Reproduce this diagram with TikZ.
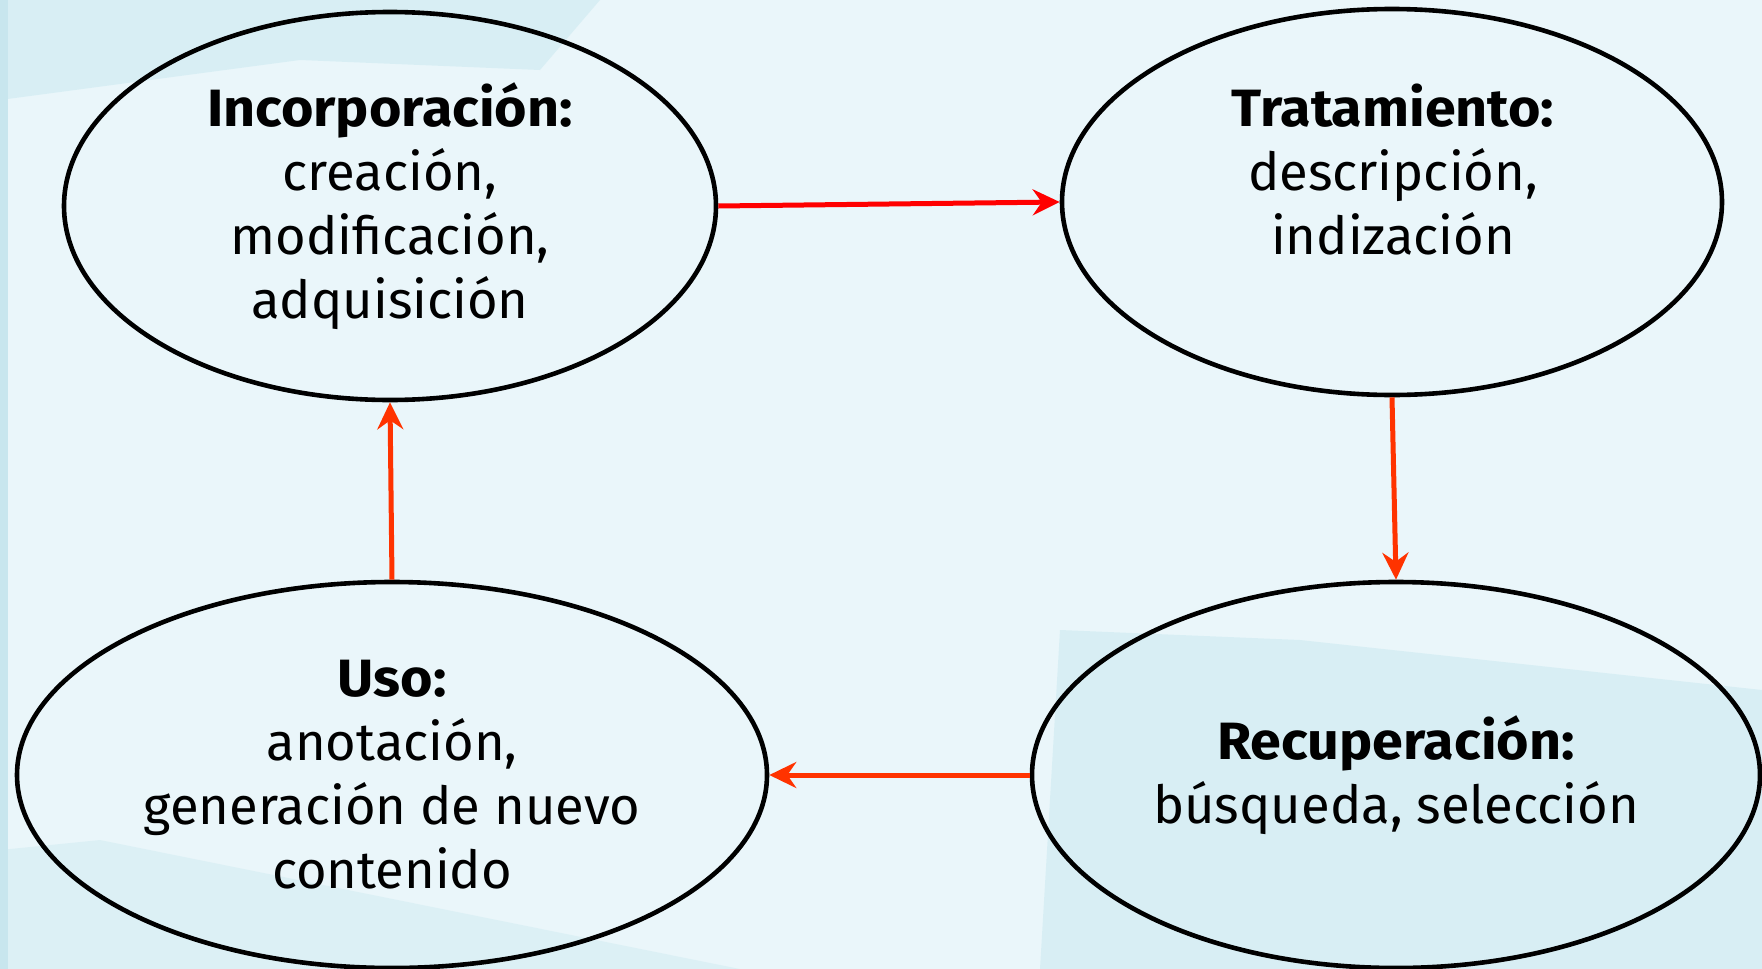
\documentclass[tikz,border=0pt]{standalone}
\usepackage{fontspec}
\setmainfont{Fira Sans}[BoldFeatures={FakeStretch=1.06}]
\usetikzlibrary{shapes.geometric,arrows.meta}
\definecolor{bgbase}{HTML}{EAF6FA}
\definecolor{bgdark}{HTML}{D4EDF3}
\definecolor{bgedge}{HTML}{C8E6EE}
\definecolor{arrred}{HTML}{FF0000}
\definecolor{arrorange}{HTML}{FF3300}
\tikzset{
  stagefont/.style={font=\fontsize{52.5}{64}\selectfont},
  stage/.style={draw=black, line width=4.6pt, ellipse, inner sep=0pt, align=center, stagefont},
  flow/.style={line width=5pt, -{Stealth[length=27pt,width=26pt,inset=9pt]}},
}
\begin{document}
\begin{tikzpicture}[x=1pt,y=-1pt]
\useasboundingbox (0,0) rectangle (1762,969);
% background
\fill[bgbase] (0,0) rectangle (1762,969);
\fill[bgdark,opacity=0.8] (0,0) -- (600,0) -- (540,70) -- (300,60) -- (0,100) -- cycle;
\fill[bgdark,opacity=0.8] (1060,630) -- (1300,640) -- (1762,690) -- (1762,969) -- (1040,969) -- cycle;
\fill[bgdark,opacity=0.6] (0,850) -- (100,840) -- (740,969) -- (0,969) -- cycle;
\fill[bgedge] (0,0) rectangle (8,969);
% stages
\node[stage, minimum width=652pt, minimum height=388pt] (tl) at (390,206)
  {\textbf{Incorporación:}\\creación,\\modificación,\\adquisición};
\node[stage, minimum width=660pt, minimum height=386pt] (tr) at (1392,202) {};
\node[stagefont, align=center] (trtext) at (1393,170)
  {\textbf{Tratamiento:}\\descripción,\\indización};
\node[stage, minimum width=728pt, minimum height=386pt] (br) at (1396,775)
  {\textbf{Recuperación:}\\búsqueda, selección};
\node[stage, minimum width=750pt, minimum height=386pt] (bl) at (392,775)
  {\textbf{Uso:}\\anotación,\\generación de nuevo\\contenido};
% connectors
\draw[flow, arrred] (tl.east) -- (tr.west);
\draw[flow, arrorange] (tr.south) -- (br.north);
\draw[flow, arrorange] (br.west) -- (bl.east);
\draw[flow, arrorange] (bl.north) -- (tl.south);
\end{tikzpicture}
\end{document}
